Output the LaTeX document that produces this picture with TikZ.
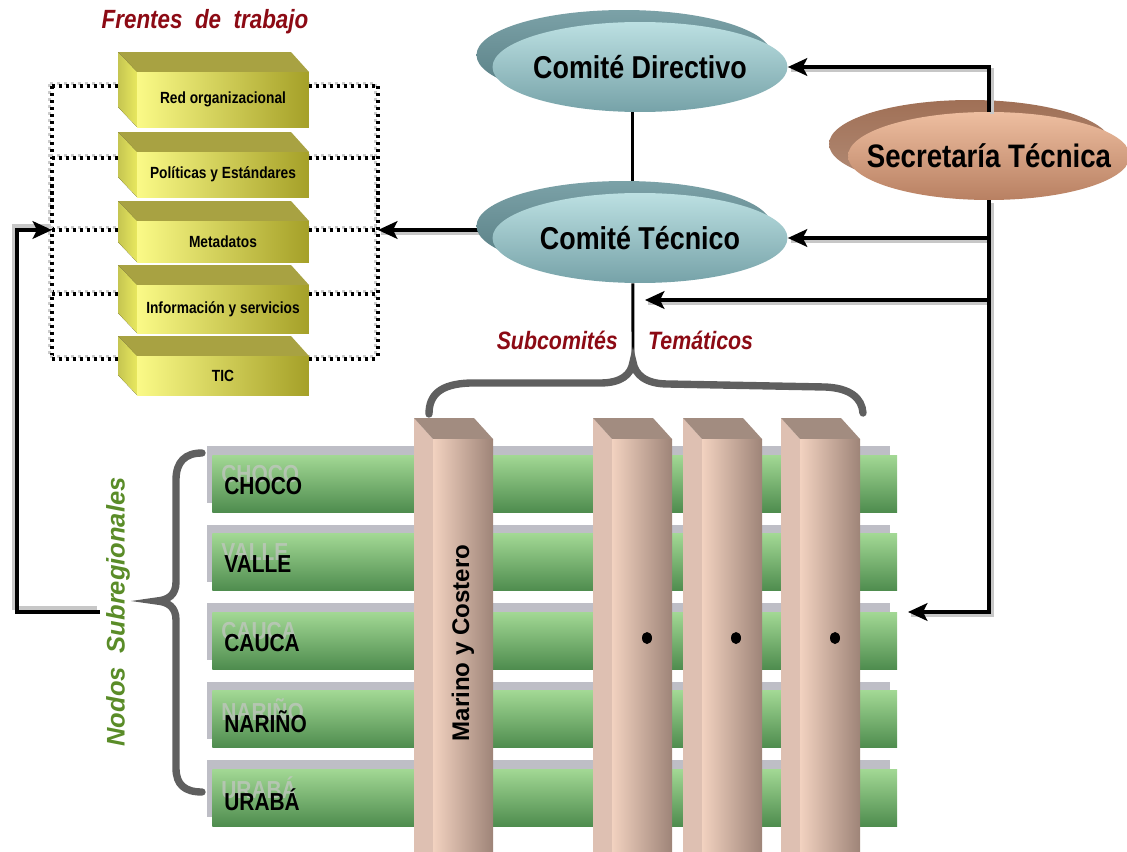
\documentclass[tikz,border=0pt]{standalone}
\usepackage{fontspec}
\setmainfont{Liberation Sans}[FakeStretch=0.85]
\newfontfamily\rotfont{Liberation Sans}
\usetikzlibrary{arrows.meta,shapes.geometric,shadows,positioning}
\pgfdeclarelayer{background}
\pgfsetlayers{background,main}

\definecolor{titlered}{RGB}{140,10,20}
\definecolor{nodosgreen}{RGB}{90,140,40}
\definecolor{comilight}{RGB}{188,224,226}
\definecolor{comidark}{RGB}{118,162,168}
\definecolor{comiback}{RGB}{100,145,152}
\definecolor{secrlight}{RGB}{238,190,160}
\definecolor{secrdark}{RGB}{184,128,98}
\definecolor{secrback}{RGB}{160,112,86}
\definecolor{boxlight}{RGB}{250,250,135}
\definecolor{boxdark}{RGB}{165,160,40}
\definecolor{boxtop}{RGB}{168,162,66}
\definecolor{boxside}{RGB}{232,232,95}
\definecolor{barlight}{RGB}{162,216,148}
\definecolor{bardark}{RGB}{78,140,78}
\definecolor{stripgray}{RGB}{190,190,198}
\definecolor{pilllight}{RGB}{242,210,192}
\definecolor{pilldark}{RGB}{158,132,120}
\definecolor{pillside}{RGB}{222,192,178}
\definecolor{pilltop}{RGB}{162,140,128}
\definecolor{bracegray}{RGB}{95,95,95}

\newcommand{\zw}[1]{\makebox[0pt]{#1}}

\begin{document}
\begin{tikzpicture}[x=0.02cm, y=-0.02cm,
  comite/.style={ellipse, minimum width=5.9cm, minimum height=1.8cm, inner sep=0pt,
    top color=comilight, bottom color=comidark,
    font=\fontsize{18}{20}\selectfont\bfseries,
    general shadow={shadow xshift=-0.32cm, shadow yshift=0.24cm,
      top color=comiback!85!white, bottom color=comiback!85!black}},
  secre/.style={ellipse, minimum width=5.64cm, minimum height=1.76cm, inner sep=0pt,
    top color=secrlight, bottom color=secrdark,
    font=\fontsize{18.5}{20}\selectfont\bfseries,
    general shadow={shadow xshift=-0.38cm, shadow yshift=0.24cm,
      top color=secrback, bottom color=secrback!80!white}},
  frtitle/.style={font=\fontsize{15}{17}\selectfont\bfseries\itshape, text=titlered},
  frbox/.style={rectangle, minimum width=3.44cm, inner sep=0pt,
    left color=boxlight, right color=boxdark,
    font=\fontsize{9.2}{11}\selectfont\bfseries},
  bar/.style={rectangle, minimum width=13.7cm, minimum height=1.14cm, inner sep=0pt,
    anchor=north west, top color=barlight, bottom color=bardark},
  rowlbl/.style={anchor=west, inner sep=0pt, font=\fontsize{14}{16}\selectfont\bfseries},
  ghost/.style={rowlbl, text=gray!45, text opacity=0.7},
  rotlbl/.style={font=\rotfont\fontsize{13.7}{16}\selectfont\bfseries},
  nodoslbl/.style={font=\rotfont\fontsize{14.5}{16}\selectfont\bfseries\itshape, text=nodosgreen},
  flow/.style={line width=2.3pt, -{Stealth[length=11pt,width=10pt,inset=2.5pt]},
    preaction={draw=black!22, line width=2.3pt, -, transform canvas={shift={#1}}}},
  flow/.default={(1.6pt,-1.6pt)},
  dotline/.style={line width=1.8pt, dash pattern=on 1.8pt off 2.2pt,
    preaction={draw=black!20, line width=1.8pt, dash pattern=on 1.8pt off 2.2pt,
      transform canvas={shift={(-1.2pt,1.2pt)}}}},
  link/.style={line width=1.7pt},
  bracket/.style={line width=4.2pt, draw=bracegray, line cap=round}]

\useasboundingbox (0,0) rectangle (1127,852);

% frentes de trabajo
\node[frtitle] (frentes) at (205,22) {Frentes\ \ de\ \ trabajo};
\foreach \i/\ytop/\ybot/\txt in {1/72/127/Red organizacional,
    2/152/197/Políticas y Estándares, 3/221/262/Metadatos,
    4/285/333/Información y servicios, 5/356/395/TIC}{
  \fill[boxtop] (137,\ytop) -- (309,\ytop) -- (291,\ytop-20) -- (118,\ytop-20) -- cycle;
  \fill[left color=boxside!85!black, right color=boxside]
    (118,\ytop-20) -- (137,\ytop) -- (137,\ybot) -- (118,\ybot-20) -- cycle;
  \pgfmathsetmacro{\boxh}{(\ybot-\ytop)*0.02}
  \node[frbox, minimum height=\boxh cm] (fr\i) at (223,{(\ytop+\ybot)/2}) {\txt};
}
\coordinate (frleft) at (52,230);
\coordinate (frright) at (378,230);
\begin{pgfonlayer}{background}
  \draw[dotline] (52,86) -- (52,359);
  \draw[dotline] (378,86) -- (378,359);
  \foreach \y in {86,158,230,294,359}{
    \draw[dotline] (52,\y) -- (130,\y);
    \draw[dotline] (309,\y) -- (378,\y);
  }
\end{pgfonlayer}

% comites
\node[comite] (dir) at (640,67) {\zw{Comité Directivo}};
\node[comite] (tec) at (640,238) {\zw{Comité Técnico}};
\node[secre] (sec) at (989,156) {\zw{Secretaría Técnica}};
\begin{pgfonlayer}{background}
  \draw[link] ([xshift=-4pt]dir.south) -- ([xshift=-4pt]tec.north);
  \draw[flow] (tec.west |- frright) -- (frright);
\end{pgfonlayer}

% subcomites
\coordinate (subtip) at (633,362);
\draw[link] ([xshift=-4pt]tec.south) -- (subtip);
\node[frtitle, font=\fontsize{14.3}{16}\selectfont\bfseries\itshape, anchor=east] (subleft) at (624,340) {Subcomités};
\node[frtitle, font=\fontsize{14.3}{16}\selectfont\bfseries\itshape, anchor=west] (subright) at (642,340) {Temáticos};
\draw[bracket] (429,414) .. controls (429,395) and (440,384) .. (470,383) -- (600,383)
  .. controls (621,383) and (631,375) .. (633,362)
  .. controls (635,375) and (646,384) .. (668,384) -- (825,387)
  .. controls (850,388) and (862,398) .. (863,413);

% secretaria
\coordinate (subin) at (645,300);
\coordinate (nodosin) at (908,612);
\draw[flow] (sec.north) |- (dir.east);
\draw[flow] (sec.south) |- (tec.east);
\draw[flow] (sec.south) |- (subin);
\draw[flow] (sec.south) |- (nodosin);

% nodos subregionales
\foreach \i/\name/\txt in {0/choco/CHOCO, 1/valle/VALLE, 2/cauca/CAUCA,
    3/narino/NARIÑO, 4/uraba/URABÁ}{
  \pgfmathsetmacro{\ytop}{455+78.5*\i}
  \fill[stripgray] (207,\ytop-9) rectangle (890,\ytop+48);
  \node[bar] (\name) at (212,\ytop) {};
  \node[ghost] (\name-g) at (221,\ytop+19) {\txt};
  \node[rowlbl] (\name-l) at (224,\ytop+31) {\txt};
}
\draw[bracket] (202,453) .. controls (185,453) and (176,462) .. (176,480) -- (176,582)
  .. controls (176,595) and (168,600) .. (157,601)
  .. controls (168,602) and (176,607) .. (176,620) -- (176,768)
  .. controls (176,785) and (185,792) .. (202,792);
\node[nodoslbl, rotate=90] (nodos) at (118,612) {Nodos\ \ Subregionales};
\draw[flow={(-1.6pt,2.4pt)}] (nodos.north) -- ++(-83,0) |- (frleft);

% pilares
\foreach \x in {414,593,683,781}{
  \fill[pillside] (\x,418) -- (\x+19,439) -- (\x+19,870) -- (\x,870) -- cycle;
  \fill[pilltop] (\x,418) -- (\x+60,418) -- (\x+79,439) -- (\x+19,439) -- cycle;
  \fill[left color=pilllight, right color=pilldark] (\x+19,439) rectangle (\x+79,870);
}
\node[rotlbl, rotate=90] (marino) at (463,643) {Marino y Costero};
\foreach \x in {647,736,835}
  \fill (\x,638) ellipse [x radius=5, y radius=6];
\end{tikzpicture}
\end{document}
